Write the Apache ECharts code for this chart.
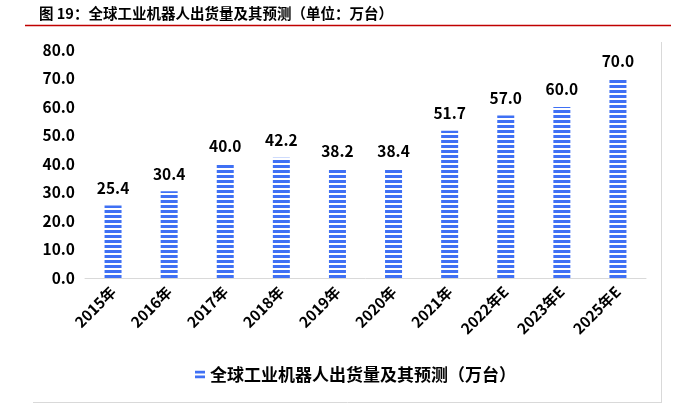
<!DOCTYPE html>
<html><head><meta charset="utf-8">
<script src="https://cdn.jsdelivr.net/npm/echarts@6/dist/echarts.min.js"></script>
<style>html,body{margin:0;padding:0;background:#fff}#c{width:679px;height:416px}</style>
</head><body><div id="c"></div>
<script>
var categories = ['2015年','2016年','2017年','2018年','2019年','2020年','2021年','2022年E','2023年E','2025年E'];
var shipments = [25.4, 30.4, 40.0, 42.2, 38.2, 38.4, 51.7, 57.0, 60.0, 70.0];
var seriesName = '全球工业机器人出货量及其预测（万台）';
var titleText = '图 19：全球工业机器人出货量及其预测（单位：万台）';

var FONT = '"Noto Sans CJK SC", "Noto Sans", sans-serif';
var cv = document.createElement('canvas');
cv.width = 5; cv.height = 5;
var cx = cv.getContext('2d');
cx.fillStyle = '#ffffff'; cx.fillRect(0,0,5,5);
cx.fillStyle = '#3f70f4'; cx.fillRect(0,0,5,3);
var pattern = {image: cv, repeat: 'repeat'};

var chart = echarts.init(document.getElementById('c'), null, {renderer:'canvas'});
chart.setOption({
  animation: false,
  title: {text: titleText, left: 34, top: 1,
    textStyle: {fontFamily: FONT, fontSize: 14.5, fontWeight: 'bold', color: '#000'}},
  graphic: [
    {type:'line', shape:{x1:25,y1:25.5,x2:671,y2:25.5}, style:{stroke:'#c00000', lineWidth:1.5}},
    {type:'line', shape:{x1:661.5,y1:42,x2:661.5,y2:402.5}, style:{stroke:'#d9d9d9', lineWidth:1}},
    {type:'line', shape:{x1:33,y1:402.5,x2:662,y2:402.5}, style:{stroke:'#d9d9d9', lineWidth:1}}
  ],
  grid: {left: 85, right: 33, top: 50, bottom: 138, containLabel: false},
  legend: {show: true, left: 190, top: 361, itemWidth: 10, itemHeight: 8, itemGap: 9,
    data: [{name: seriesName, icon: 'rect'}],
    textStyle: {fontFamily: FONT, fontSize: 17, fontWeight: 'bold', color: '#000'}},
  xAxis: {type: 'category', data: categories,
    axisLine: {lineStyle: {color: '#d9d9d9'}}, axisTick: {show: false},
    axisLabel: {rotate: 45, interval: 0, fontFamily: FONT, fontSize: 15, fontWeight: 'bold', color: '#000', margin: 11}},
  yAxis: {type: 'value', min: 0, max: 80, interval: 10,
    axisLine: {show: false}, axisTick: {show: false}, splitLine: {show: false},
    axisLabel: {formatter: function(v){return v.toFixed(1);}, fontFamily: FONT, fontSize: 15.5, fontWeight: 'bold', color: '#000', margin: 10}},
  series: [{type: 'bar', name: seriesName, data: shipments, barWidth: 17,
    itemStyle: {color: pattern},
    label: {show: true, position: 'top', distance: 10, formatter: function(p){return p.value.toFixed(1);},
      fontFamily: FONT, fontSize: 15.5, fontWeight: 'bold', color: '#000'}}]
});
</script></body></html>
